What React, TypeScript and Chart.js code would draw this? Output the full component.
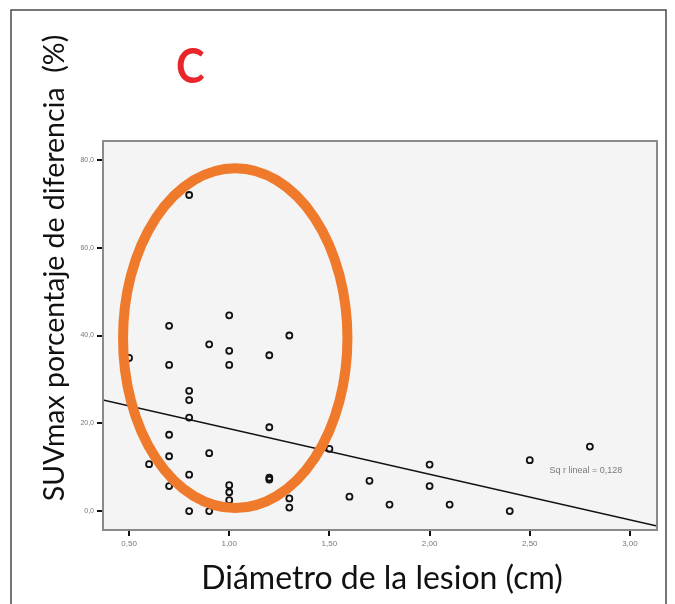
import React, { useEffect, useRef } from "react";
import { Chart, registerables } from "chart.js";

Chart.register(...registerables);

// Diámetro de la lesión (cm)
const DIAMETER = [
  0.8, 0.7, 1.0, 1.3, 0.9, 1.0, 0.5, 1.2, 0.7, 1.0,
  0.8, 0.8, 0.8, 1.2, 1.5, 0.7, 0.7, 0.9, 0.6, 0.8,
  0.7, 1.2, 1.2, 1.0, 1.0, 1.0, 1.3, 1.3, 0.8, 0.9,
  1.6, 1.7, 2.8, 2.5, 2.0, 2.0, 1.8, 2.1, 2.4,
];
// SUVmax porcentaje de diferencia (%)
const SUV_DIFF = [
  72.0, 42.2, 44.6, 40.0, 38.0, 36.5, 34.9, 35.5, 33.3, 33.3,
  27.4, 25.3, 21.3, 19.1, 14.2, 17.4, 12.5, 13.2, 10.7, 8.3,
  5.7, 7.2, 7.6, 5.9, 4.3, 2.5, 2.9, 0.8, 0.0, 0.0,
  3.3, 6.9, 14.7, 11.6, 10.6, 5.7, 1.5, 1.5, 0.0,
];

const X_TICKS = [0.5, 1.0, 1.5, 2.0, 2.5, 3.0];
const Y_TICKS = [0, 20, 40, 60, 80];
const X_MIN = 0.37;
const X_MAX = 3.135;
const Y_MIN = -4.3;
const Y_MAX = 84.3;

// Regression (Sq r lineal = 0,128)
const FIT_INTERCEPT = 29.14;
const FIT_SLOPE = -10.38;
const R2_LABEL = "Sq r lineal = 0,128";
const R2_POS = [2.78, 9.3];

// Highlight ellipse (data units)
const ELLIPSE = { cx: 1.03, cy: 39.4, rx: 0.56, ry: 38.7 };

const PANEL_LETTER = "C";
const X_TITLE = "Diámetro de la lesion (cm)";
const Y_TITLE = "SUVmax porcentaje de diferencia  (%)";

export default function App() {
  const ref = useRef<HTMLCanvasElement | null>(null);

  useEffect(() => {
    if (!ref.current) return;
    const points = DIAMETER.map((x, i) => ({ x, y: SUV_DIFF[i] }));
    const fit = [X_MIN, X_MAX].map((x) => ({ x, y: FIT_INTERCEPT + FIT_SLOPE * x }));

    const decor = {
      id: "decor",
      beforeDraw(chart: any) {
        const { ctx, chartArea: a } = chart;
        ctx.save();
        ctx.fillStyle = "#ffffff";
        ctx.fillRect(0, 0, chart.width, chart.height);
        // outer frame
        ctx.strokeStyle = "#4a4a4a";
        ctx.lineWidth = 1.5;
        ctx.beginPath();
        ctx.moveTo(11, 604);
        ctx.lineTo(11, 10);
        ctx.lineTo(666, 10);
        ctx.lineTo(666, 604);
        ctx.stroke();
        // plot background
        ctx.fillStyle = "#f4f4f4";
        ctx.fillRect(a.left, a.top, a.right - a.left, a.bottom - a.top);
        ctx.restore();
      },
      afterDatasetsDraw(chart: any) {
        const { ctx, chartArea: a, scales } = chart;
        const xs = scales.x;
        const ys = scales.y;
        ctx.save();
        // plot border
        ctx.strokeStyle = "#8a8a8a";
        ctx.lineWidth = 2;
        ctx.strokeRect(a.left, a.top, a.right - a.left, a.bottom - a.top);
        // R² label
        ctx.fillStyle = "#7a7a7a";
        ctx.font = "9px 'Liberation Sans', Arial, sans-serif";
        ctx.textAlign = "center";
        ctx.textBaseline = "middle";
        ctx.fillText(R2_LABEL, xs.getPixelForValue(R2_POS[0]), ys.getPixelForValue(R2_POS[1]));
        // ellipse
        const cx = xs.getPixelForValue(ELLIPSE.cx);
        const cy = ys.getPixelForValue(ELLIPSE.cy);
        const rx = Math.abs(xs.getPixelForValue(ELLIPSE.cx + ELLIPSE.rx) - cx);
        const ry = Math.abs(ys.getPixelForValue(ELLIPSE.cy + ELLIPSE.ry) - cy);
        ctx.strokeStyle = "#f07a2c";
        ctx.lineWidth = 10;
        ctx.beginPath();
        ctx.ellipse(cx, cy, rx, ry, 0, 0, Math.PI * 2);
        ctx.stroke();
        // panel letter
        ctx.fillStyle = "#e8262c";
        ctx.font = "bold 48px Lato, 'Noto Sans', sans-serif";
        ctx.textAlign = "left";
        ctx.textBaseline = "alphabetic";
        ctx.save();
        ctx.translate(176, 83);
        ctx.scale(0.9, 1);
        ctx.fillText(PANEL_LETTER, 0, 0);
        ctx.restore();
        // axis titles
        ctx.fillStyle = "#111111";
        ctx.font = "32px Lato, 'Noto Sans', sans-serif";
        ctx.textAlign = "center";
        ctx.fillText(X_TITLE, 382, 589);
        ctx.save();
        ctx.translate(64, 268);
        ctx.rotate(-Math.PI / 2);
        ctx.font = "28.5px Lato, 'Noto Sans', sans-serif";
        ctx.fillText(Y_TITLE, 0, 0);
        ctx.restore();
        ctx.restore();
      },
    };

    const chart = new Chart(ref.current, {
      type: "scatter",
      data: {
        datasets: [
          {
            type: "line",
            data: fit,
            borderColor: "#111111",
            borderWidth: 1.5,
            pointRadius: 0,
            fill: false,
          } as any,
          {
            data: points,
            pointRadius: 3,
            pointBorderWidth: 1.8,
            pointBorderColor: "#111111",
            pointBackgroundColor: "rgba(0,0,0,0)",
          },
        ],
      },
      options: {
        animation: false,
        responsive: false,
        layout: { padding: { left: 0, top: 141, right: 18, bottom: 0 } },
        plugins: { legend: { display: false }, tooltip: { enabled: false } },
        scales: {
          x: {
            type: "linear",
            min: X_MIN,
            max: X_MAX,
            afterBuildTicks: (s: any) => {
              s.ticks = X_TICKS.map((v) => ({ value: v }));
            },
            afterFit: (s: any) => {
              s.height = 74;
            },
            grid: { drawOnChartArea: false, drawTicks: true, tickLength: 6, color: "#111", lineWidth: 2 },
            border: { display: true, color: "#8a8a8a", width: 2 },
            ticks: {
              padding: 3,
              color: "#777",
              font: { size: 8, family: "'Liberation Sans', Arial, sans-serif" },
              callback: (v: any) => Number(v).toFixed(2).replace(".", ","),
            },
          },
          y: {
            type: "linear",
            min: Y_MIN,
            max: Y_MAX,
            afterBuildTicks: (s: any) => {
              s.ticks = Y_TICKS.map((v) => ({ value: v }));
            },
            afterFit: (s: any) => {
              s.width = 103;
            },
            grid: { drawOnChartArea: false, drawTicks: true, tickLength: 6, color: "#111", lineWidth: 2 },
            border: { display: true, color: "#8a8a8a", width: 2 },
            ticks: {
              padding: 3,
              color: "#777",
              font: { size: 7, family: "'Liberation Sans', Arial, sans-serif" },
              callback: (v: any) => Number(v).toFixed(1).replace(".", ","),
            },
          },
        },
      },
      plugins: [decor],
    });
    return () => chart.destroy();
  }, []);

  return (
    <div style={{ position: "absolute", left: 0, top: 0, width: 675, height: 604 }}>
      <canvas ref={ref} width={675} height={604} style={{ width: 675, height: 604, display: "block" }} />
    </div>
  );
}
